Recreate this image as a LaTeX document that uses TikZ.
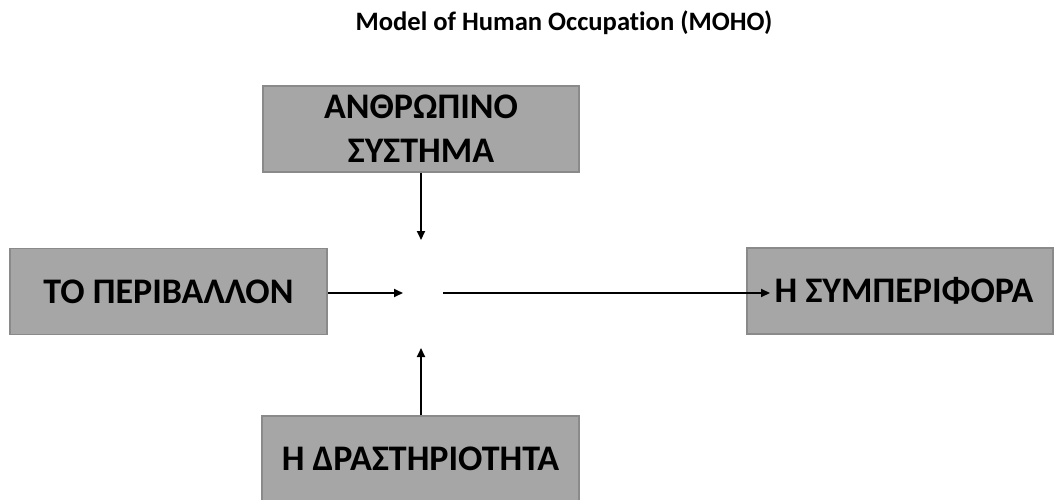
\documentclass[tikz,border=0pt]{standalone}
\usepackage{fontspec}
\setmainfont[Ligatures=NoCommon]{Carlito}
\usetikzlibrary{arrows.meta}
\definecolor{boxfill}{HTML}{A6A6A6}
\definecolor{boxline}{HTML}{8A8A8A}
\tikzset{
  gbox/.style={draw=boxline, line width=1.5pt, fill=boxfill, minimum width=316pt, minimum height=86pt, inner sep=0pt, align=center, font=\fontsize{36}{44}\selectfont\bfseries},
  conn/.style={line width=2pt, -{Triangle[length=9pt,width=8pt]}}
}
\begin{document}
\begin{tikzpicture}[x=1pt,y=-1pt]
\useasboundingbox (0,0) rectangle (1054,500);
\node[font=\fontsize{26.6}{30}\selectfont\bfseries] (title) at (564,23) {Model of Human Occupation (MOHO)};
\node[gbox] (human) at (421,129) {ΑΝΘΡΩΠΙΝΟ\\ΣΥΣΤΗΜΑ};
\node[gbox, minimum width=317pt] (env) at (168.5,291.5) {ΤΟ ΠΕΡΙΒΑΛΛΟΝ};
\node[gbox, minimum width=306pt] (beh) at (900,291) {\hspace*{8pt}Η ΣΥΜΠΕΡΙΦΟΡΑ};
\node[gbox, minimum width=317pt, minimum height=85pt] (act) at (420.5,458.5) {Η ΔΡΑΣΤΗΡΙΟΤΗΤΑ};
\coordinate (hubN) at (421,240);
\coordinate (hubW) at (403,293);
\coordinate (hubS) at (421,348);
\coordinate (hubE) at (443,293);
\coordinate (behIn) at (770,293);
\draw[conn] (human.south) -- (hubN);
\draw[conn] (env.east |- hubW) -- (hubW);
\draw[conn] (act.north -| hubS) -- (hubS);
\draw[conn] (hubE) -- (behIn);
\end{tikzpicture}
\end{document}
